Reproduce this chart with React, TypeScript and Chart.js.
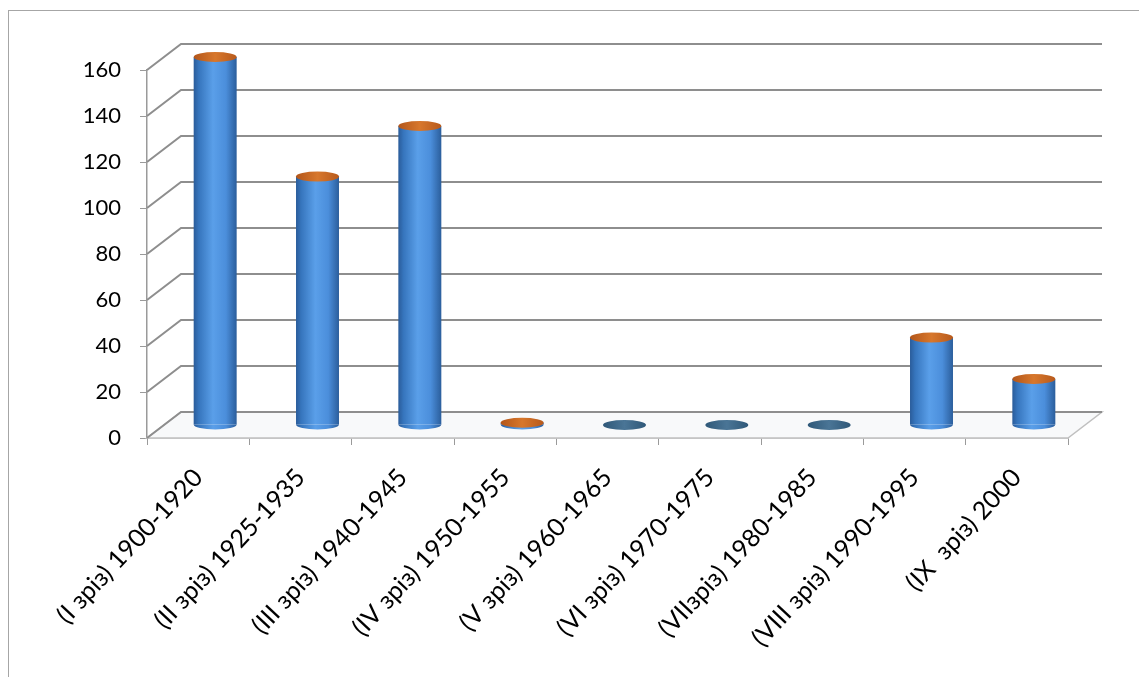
import React, { useEffect, useRef } from "react";
import { Chart, registerables } from "chart.js";

Chart.register(...registerables);

const categories: string[] = [
  "(I зріз) 1900-1920",
  "(II зріз) 1925-1935",
  "(III зріз) 1940-1945",
  "(IV зріз) 1950-1955",
  "(V зріз) 1960-1965",
  "(VI зріз) 1970-1975",
  "(VIIзріз) 1980-1985",
  "(VIII зріз) 1990-1995",
  "(IX  зріз) 2000",
];
const values: number[] = [160, 108, 130, 1, 0, 0, 0, 38, 20];
const yTicks: number[] = [0, 20, 40, 60, 80, 100, 120, 140, 160];

const DX = 34;
const DY = 26;
const BAR_FRACTION = 0.42;
const FONT = "Lato, 'Open Sans', sans-serif";

function bodyGradient(ctx: CanvasRenderingContext2D, cx: number, w: number) {
  const g = ctx.createLinearGradient(cx - w / 2, 0, cx + w / 2, 0);
  g.addColorStop(0, "#2a5c9a");
  g.addColorStop(0.12, "#3675bd");
  g.addColorStop(0.45, "#5a9fe9");
  g.addColorStop(0.75, "#4b8edb");
  g.addColorStop(1, "#2b5e9c");
  return g;
}

const threeDPlugin = {
  id: "threeD",
  beforeDatasetsDraw(chart: any) {
    const { ctx, chartArea } = chart;
    const { left, right, bottom } = chartArea;
    const y = chart.scales.y;
    ctx.save();
    // floor
    ctx.beginPath();
    ctx.moveTo(left, bottom);
    ctx.lineTo(right, bottom);
    ctx.lineTo(right + DX, bottom - DY);
    ctx.lineTo(left + DX, bottom - DY);
    ctx.closePath();
    ctx.fillStyle = "#f8f9fa";
    ctx.fill();
    ctx.strokeStyle = "#c0c0c0";
    ctx.lineWidth = 1.5;
    ctx.stroke();
    // side wall + back wall gridlines
    ctx.strokeStyle = "#8e8e8e";
    ctx.lineWidth = 2;
    y.ticks.forEach((t: any) => {
      const py = y.getPixelForValue(t.value);
      ctx.beginPath();
      ctx.moveTo(left, py);
      ctx.lineTo(left + DX, py - DY);
      ctx.lineTo(right + DX, py - DY);
      ctx.stroke();
    });
    ctx.restore();
    ctx.save();
    ctx.translate(DX / 2, -DY / 2);
  },
  afterDatasetsDraw(chart: any) {
    const { ctx } = chart;
    const meta = chart.getDatasetMeta(0);
    meta.data.forEach((bar: any, i: number) => {
      const { x, y, base, width } = bar.getProps(["x", "y", "base", "width"], true);
      const rx = width / 2;
      const ry = 5;
      if (values[i] > 0) {
        ctx.beginPath();
        ctx.ellipse(x, base, rx, ry, 0, 0, Math.PI);
        ctx.fillStyle = bodyGradient(ctx, x, width);
        ctx.fill();
        const tg = ctx.createLinearGradient(x - rx, 0, x + rx, 0);
        tg.addColorStop(0, "#b3561a");
        tg.addColorStop(0.5, "#d7772c");
        tg.addColorStop(1, "#b85a1c");
        ctx.beginPath();
        ctx.ellipse(x, y, rx, ry, 0, 0, Math.PI * 2);
        ctx.fillStyle = tg;
        ctx.fill();
      } else {
        const dg = ctx.createLinearGradient(x - rx, 0, x + rx, 0);
        dg.addColorStop(0, "#2f5878");
        dg.addColorStop(0.5, "#4a7596");
        dg.addColorStop(1, "#2f5878");
        ctx.beginPath();
        ctx.ellipse(x, base, rx, ry, 0, 0, Math.PI * 2);
        ctx.fillStyle = dg;
        ctx.fill();
      }
    });
    ctx.restore();
  },
};

export default function App() {
  const ref = useRef<HTMLCanvasElement | null>(null);
  useEffect(() => {
    if (!ref.current) return;
    const chart = new Chart(ref.current, {
      type: "bar",
      data: {
        labels: categories,
        datasets: [
          {
            data: values,
            borderWidth: 0,
            categoryPercentage: 1,
            barPercentage: BAR_FRACTION,
            backgroundColor: (c: any) => {
              const ch = c.chart;
              const xs = ch.scales && ch.scales.x;
              if (!xs || !ch.chartArea) return "#4a8ddb";
              const cx = xs.getPixelForValue(c.dataIndex);
              const w = (xs.width / categories.length) * BAR_FRACTION;
              return bodyGradient(ch.ctx, cx, w);
            },
          },
        ],
      },
      options: {
        responsive: false,
        animation: false,
        events: [],
        layout: { padding: { left: 0, top: 59, right: 71, bottom: 0 } },
        plugins: { legend: { display: false }, tooltip: { enabled: false } },
        scales: {
          x: {
            offset: true,
            grid: {
              offset: true,
              drawOnChartArea: false,
              drawTicks: true,
              tickLength: 7,
              color: "#9a9a9a",
            },
            border: { display: true, color: "#b0b0b0", width: 1.5 },
            ticks: {
              autoSkip: false,
              minRotation: 47,
              maxRotation: 47,
              padding: 18,
              color: "#000",
              font: { family: FONT, size: 25 },
            },
            afterFit: (s: any) => {
              s.height = 222;
            },
          },
          y: {
            min: 0,
            max: 160,
            afterBuildTicks: (s: any) => {
              s.ticks = yTicks.map((v) => ({ value: v }));
            },
            grid: {
              drawOnChartArea: false,
              drawTicks: true,
              tickLength: 7,
              color: "#9a9a9a",
            },
            border: { display: true, color: "#9a9a9a", width: 1.5 },
            ticks: {
              padding: 19,
              color: "#000",
              font: { family: FONT, size: 22 },
            },
            afterFit: (s: any) => {
              s.width = 138;
            },
          },
        },
      },
      plugins: [threeDPlugin],
    });
    return () => chart.destroy();
  }, []);

  return (
    <div
      style={{
        position: "absolute",
        left: 8,
        top: 10,
        width: 1131,
        height: 667,
        boxSizing: "border-box",
        borderTop: "1px solid #a6a6a6",
        borderLeft: "1px solid #a6a6a6",
        background: "#fff",
      }}
    >
      <canvas ref={ref} width={1130} height={649} style={{ display: "block" }} />
    </div>
  );
}
